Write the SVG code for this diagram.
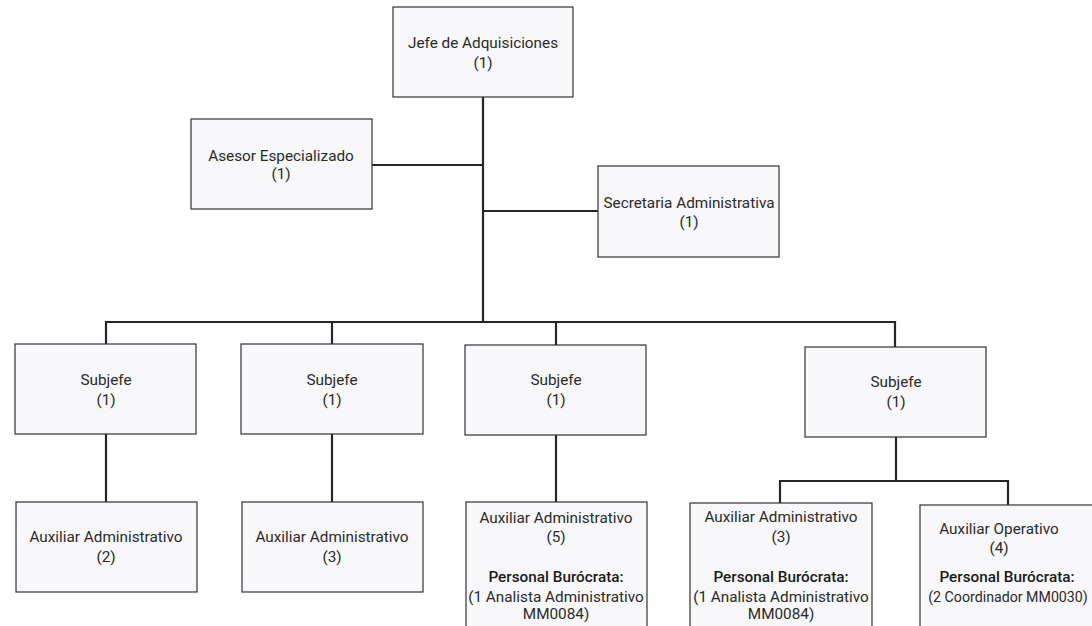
<svg xmlns="http://www.w3.org/2000/svg" width="1092" height="626" viewBox="0 0 1092 626">
<style>
.box{fill:#f8f8fa;stroke:#333333;stroke-width:1.2}
.t{font-family:Roboto,"Liberation Sans",sans-serif;font-size:15.3px;fill:#2a2a2a;text-anchor:middle;dominant-baseline:central}
.b{font-weight:500;fill:#1a1a1a}
.c{fill:none;stroke:#262626;stroke-width:2.2}
</style>
<rect width="1092" height="626" fill="#ffffff"/>
<g id="connectors">
<path class="c" d="M483 97V322"/>
<path class="c" d="M372 165H483"/>
<path class="c" d="M483 211H598"/>
<path class="c" d="M106 344V322H895V347"/>
<path class="c" d="M332 322V344"/>
<path class="c" d="M556 322V345"/>
<path class="c" d="M106 434V502"/>
<path class="c" d="M332 434V502"/>
<path class="c" d="M556 435V502"/>
<path class="c" d="M896 437V481"/>
<path class="c" d="M780 503V481H1008V505"/>
</g>
<g id="jefe">
<rect class="box" x="393" y="7" width="180" height="90"/>
<text class="t" x="483" y="43">Jefe de Adquisiciones</text>
<text class="t" x="483" y="63">(1)</text>
</g>
<g id="asesor">
<rect class="box" x="191" y="119" width="181" height="90"/>
<text class="t" x="281" y="156">Asesor Especializado</text>
<text class="t" x="281" y="174">(1)</text>
</g>
<g id="secretaria">
<rect class="box" x="598" y="166" width="181" height="91"/>
<text class="t" x="689" y="203">Secretaria Administrativa</text>
<text class="t" x="689" y="222">(1)</text>
</g>
<g id="subjefe1">
<rect class="box" x="15" y="344" width="181" height="90"/>
<text class="t" x="106" y="380">Subjefe</text>
<text class="t" x="106" y="400">(1)</text>
</g>
<g id="subjefe2">
<rect class="box" x="241" y="344" width="182" height="90"/>
<text class="t" x="332" y="380">Subjefe</text>
<text class="t" x="332" y="400">(1)</text>
</g>
<g id="subjefe3">
<rect class="box" x="465" y="345" width="181" height="90"/>
<text class="t" x="556" y="380">Subjefe</text>
<text class="t" x="556" y="400">(1)</text>
</g>
<g id="subjefe4">
<rect class="box" x="805" y="347" width="181" height="90"/>
<text class="t" x="896" y="382">Subjefe</text>
<text class="t" x="896" y="402">(1)</text>
</g>
<g id="aux1">
<rect class="box" x="16" y="502" width="181" height="90"/>
<text class="t" x="106" y="537">Auxiliar Administrativo</text>
<text class="t" x="106" y="557">(2)</text>
</g>
<g id="aux2">
<rect class="box" x="242" y="502" width="181" height="90"/>
<text class="t" x="332" y="537">Auxiliar Administrativo</text>
<text class="t" x="332" y="557">(3)</text>
</g>
<g id="aux3">
<rect class="box" x="466" y="502" width="181" height="130"/>
<text class="t" x="556" y="518">Auxiliar Administrativo</text>
<text class="t" x="556" y="537">(5)</text>
<text class="t b" x="556" y="577">Personal Burócrata:</text>
<text class="t" x="556" y="597">(1 Analista Administrativo</text>
<text class="t" x="556" y="614">MM0084)</text>
</g>
<g id="aux4">
<rect class="box" x="690" y="503" width="182" height="130"/>
<text class="t" x="781" y="517">Auxiliar Administrativo</text>
<text class="t" x="781" y="537">(3)</text>
<text class="t b" x="781" y="577">Personal Burócrata:</text>
<text class="t" x="781" y="597">(1 Analista Administrativo</text>
<text class="t" x="781" y="614">MM0084)</text>
</g>
<g id="aux5">
<rect class="box" x="920" y="505" width="181" height="130"/>
<text class="t" x="999" y="529">Auxiliar Operativo</text>
<text class="t" x="999" y="548">(4)</text>
<text class="t b" x="1007" y="577">Personal Burócrata:</text>
<text class="t" x="1008" y="597" style="font-size:14.2px">(2 Coordinador MM0030)</text>
</g>
</svg>
